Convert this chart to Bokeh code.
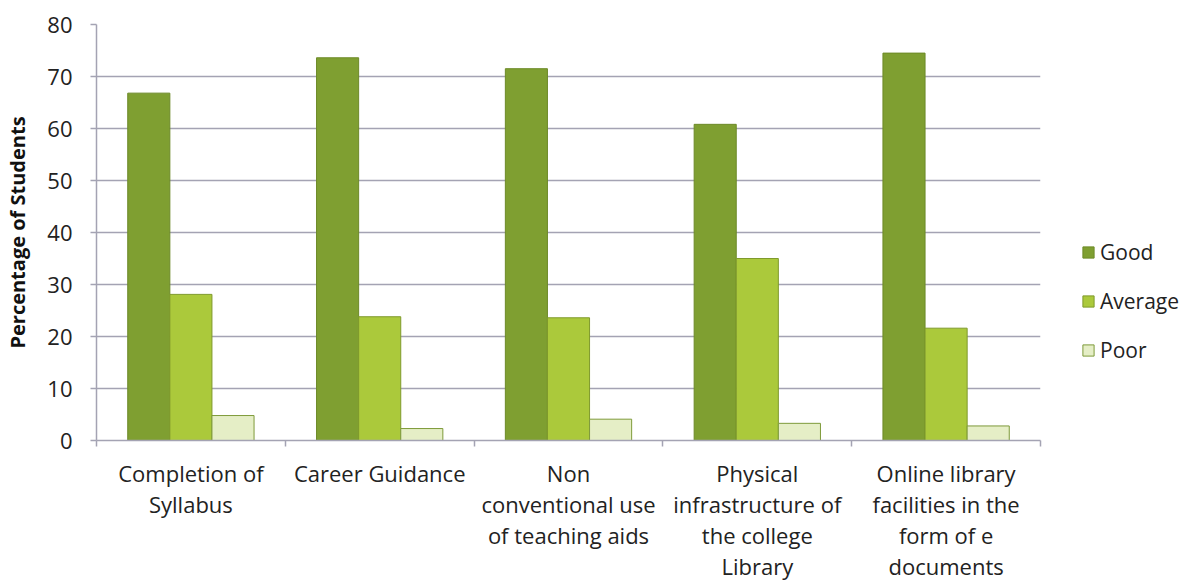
from bokeh.plotting import figure
from bokeh.models import ColumnDataSource, FixedTicker, Range1d, Legend, LegendItem
from bokeh.transform import dodge
from bokeh.embed import file_html
from bokeh.resources import INLINE

categories = ["Completion of\nSyllabus", "Career Guidance",
              "Non\nconventional use\nof teaching aids",
              "Physical\ninfrastructure of\nthe college\nLibrary",
              "Online library\nfacilities in the\nform of e\ndocuments"]
good = [66.8, 73.6, 71.5, 60.8, 74.5]
average = [28.1, 23.8, 23.6, 35.0, 21.6]
poor = [4.8, 2.3, 4.1, 3.3, 2.8]
y_ticks = [0, 10, 20, 30, 40, 50, 60, 70, 80]

centers = [i + 0.5 for i in range(len(categories))]
src = ColumnDataSource(dict(x=centers, good=good, average=average, poor=poor))

FONT = "Open Sans"
GRID = "#a4a3b3"

p = figure(width=1193, height=583, frame_width=944, frame_height=416,
           min_border_left=96, min_border_top=24, min_border_right=153, min_border_bottom=143,
           x_range=Range1d(0, len(categories)), y_range=Range1d(0, 80),
           output_backend="svg", toolbar_location=None, tools="")
p.outline_line_color = None
p.background_fill_color = "white"

bw = 0.223
r1 = p.vbar(x=dodge("x", -bw, range=p.x_range), top="good", width=bw, source=src,
            fill_color="#7f9f31", line_color="#6d8a28", line_width=1)
r2 = p.vbar(x=dodge("x", 0, range=p.x_range), top="average", width=bw, source=src,
            fill_color="#abc93b", line_color="#7f9a2c", line_width=1)
r3 = p.vbar(x=dodge("x", bw, range=p.x_range), top="poor", width=bw, source=src,
            fill_color="#e5eec6", line_color="#7e9a3a", line_width=1)

# grid
p.xgrid.grid_line_color = None
p.ygrid.ticker = FixedTicker(ticks=y_ticks)
p.ygrid.grid_line_color = GRID
p.ygrid.grid_line_width = 1.5

# y axis
p.yaxis.ticker = FixedTicker(ticks=y_ticks)
p.yaxis.axis_line_color = GRID
p.yaxis.axis_line_width = 1.5
p.yaxis.major_tick_line_color = GRID
p.yaxis.major_tick_line_width = 1.5
p.yaxis.major_tick_out = 6
p.yaxis.major_tick_in = 0
p.yaxis.minor_tick_line_color = None
p.yaxis.major_label_text_font = FONT
p.yaxis.major_label_text_font_size = "22px"
p.yaxis.major_label_text_color = "#222222"
p.yaxis.major_label_standoff = 18
p.yaxis.axis_label = "Percentage of Students"
p.yaxis.axis_label_text_font = FONT
p.yaxis.axis_label_text_font_style = "bold"
p.yaxis.axis_label_text_font_size = "20px"
p.yaxis.axis_label_text_color = "#111111"
p.yaxis.axis_label_standoff = 13

# x axis
p.xaxis.ticker = FixedTicker(ticks=centers, minor_ticks=list(range(len(categories) + 1)))
p.xaxis.major_label_overrides = {c: lab for c, lab in zip(centers, categories)}
p.xaxis.axis_line_color = GRID
p.xaxis.axis_line_width = 1.5
p.xaxis.major_tick_line_color = None
p.xaxis.minor_tick_line_color = GRID
p.xaxis.minor_tick_line_width = 1.5
p.xaxis.minor_tick_out = 6
p.xaxis.minor_tick_in = 0
p.xaxis.major_label_text_font = FONT
p.xaxis.major_label_text_font_size = "22px"
p.xaxis.major_label_text_color = "#222222"
p.xaxis.major_label_text_line_height = 1.04
p.xaxis.major_label_standoff = 11

legend = Legend(items=[LegendItem(label="Good", renderers=[r1]),
                       LegendItem(label="Average", renderers=[r2]),
                       LegendItem(label="Poor", renderers=[r3])],
                location=(41, 76), orientation="vertical")
legend.border_line_color = None
legend.background_fill_alpha = 0
legend.label_text_font = FONT
legend.label_text_font_size = "21px"
legend.label_text_color = "#222222"
legend.glyph_width = 14
legend.glyph_height = 14
legend.label_height = 26
legend.spacing = 21
legend.label_standoff = 5
legend.padding = 4
legend.margin = 0
p.add_layout(legend, "right")

open("out.html", "w").write(file_html(p, INLINE))
